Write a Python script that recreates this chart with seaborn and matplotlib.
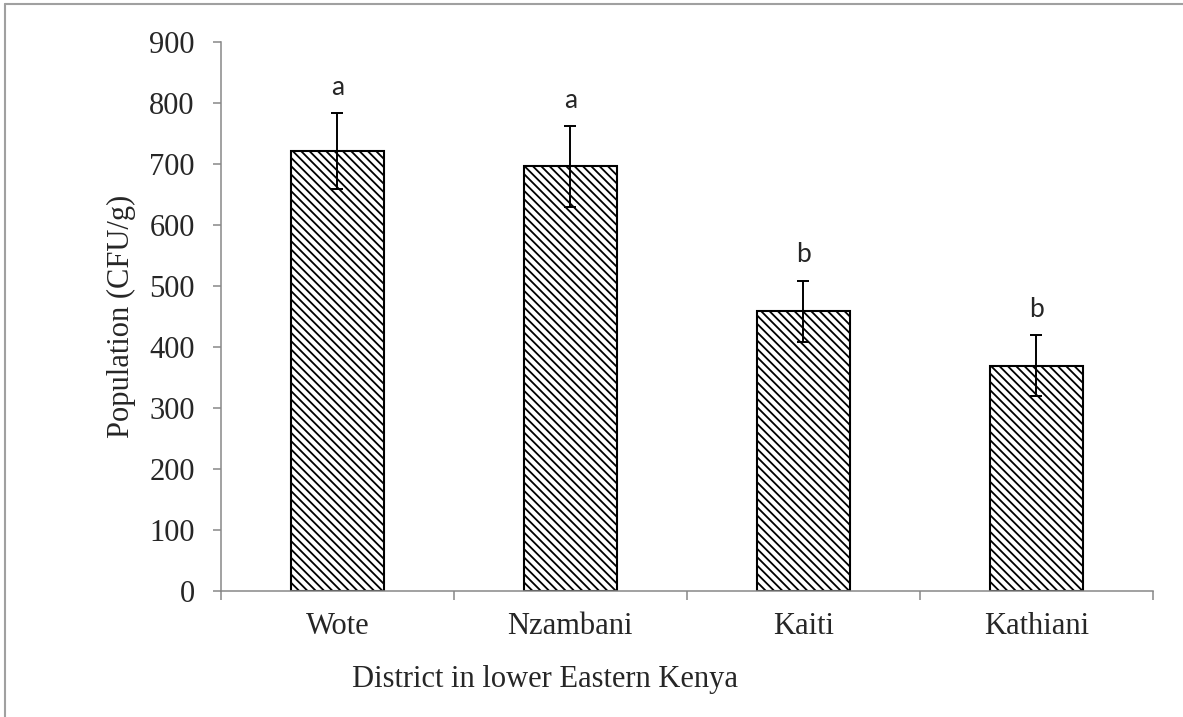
import numpy as np
import pandas as pd
import seaborn as sns
import matplotlib.pyplot as plt
from matplotlib.lines import Line2D

# data
districts = ["Wote", "Nzambani", "Kaiti", "Kathiani"]
population = [721, 696, 459, 369]
errors = [62, 66, 50, 50]
letters = ["a", "a", "b", "b"]

df = pd.DataFrame({"District": districts, "Population": population})

sns.set_style("white")
plt.rcParams['font.family'] = ['Liberation Serif', 'DejaVu Serif']
plt.rcParams['hatch.linewidth'] = 1.3
plt.rcParams['hatch.color'] = '#222222'

fig = plt.figure(figsize=(11.83, 7.17), dpi=100)
ax = fig.add_axes([0.1866, 0.1757, 0.7880, 0.7657])

sns.barplot(data=df, x="District", y="Population", ax=ax, width=0.40,
            color="white", edgecolor="black", linewidth=1.5, errorbar=None)
for p in ax.patches:
    p.set_hatch('\\\\\\\\')
    p.set_edgecolor('black')

x = np.arange(len(districts))
ax.errorbar(x, population, yerr=errors, fmt='none', ecolor='black',
            elinewidth=1.4, capsize=4.3, capthick=1.4)

for i in range(len(districts)):
    ax.text(x[i], population[i] + errors[i] + 30, letters[i], ha='center',
            va='baseline', fontsize=19, family=['Lato', 'DejaVu Sans'])

ax.set_ylim(0, 900)
ax.set_xlim(-0.5, 3.5)
ax.set_yticks(range(0, 901, 100))
ax.set_xticks(x)
ax.set_xticks(np.arange(-0.5, 3.6, 1), minor=True)

gray = '#878787'
for s in ['top', 'right']:
    ax.spines[s].set_visible(False)
for s in ['left', 'bottom']:
    ax.spines[s].set_color(gray)
    ax.spines[s].set_linewidth(1.1)

ax.tick_params(axis='y', which='major', direction='out', length=5.8, width=1.1,
               color=gray, labelsize=22, pad=13, left=True)
ax.tick_params(axis='x', which='major', length=0, labelsize=22, pad=15)
ax.tick_params(axis='x', which='minor', direction='out', length=6.5, width=1.1,
               color=gray, bottom=True)

ax.set_ylabel("Population (CFU/g)", fontsize=22)
ax.yaxis.label.set_va('center')
ax.yaxis.set_label_coords(-0.106, 0.5)
ax.set_xlabel("District in lower Eastern Kenya", fontsize=22)
ax.xaxis.label.set_ha('left')
ax.xaxis.label.set_va('baseline')
ax.xaxis.set_label_coords(0.141, -0.175)

# outer frame of the chart area
fig.add_artist(Line2D([0.0045, 0.0045], [0.0, 0.9944], color='#a0a0a0', lw=1.5,
                      transform=fig.transFigure))
fig.add_artist(Line2D([0.0045, 1.0], [0.9944, 0.9944], color='#a0a0a0', lw=1.5,
                      transform=fig.transFigure))

fig.savefig('out.png', dpi=100)
